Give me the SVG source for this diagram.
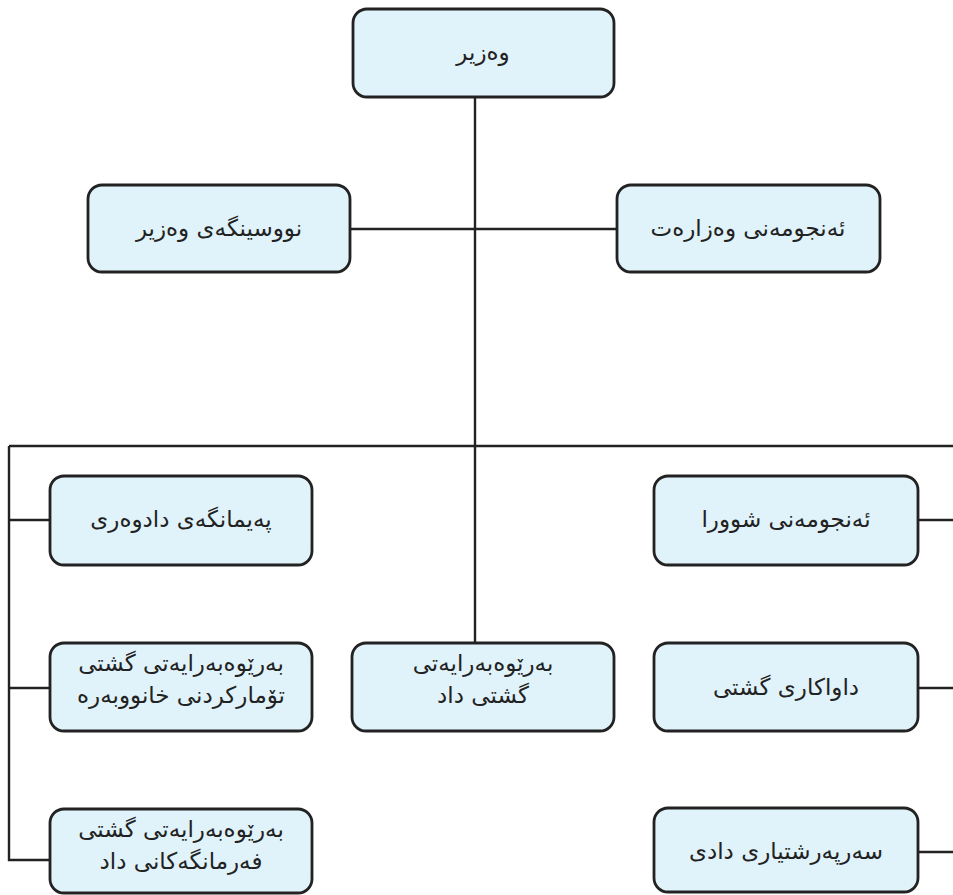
<svg xmlns="http://www.w3.org/2000/svg" width="953" height="895" viewBox="0 0 953 895">
<style>
.box{fill:#e0f2fa;stroke:#222;stroke-width:2.8}
.t{font-family:"DejaVu Sans","Noto Sans",sans-serif;font-size:23px;fill:#222;text-anchor:middle;direction:rtl}
.c{fill:none;stroke:#222;stroke-width:2.4}
</style>
<rect width="953" height="895" fill="#fff"/>
<g id="connectors">
<path class="c" d="M475 97V643"/>
<path class="c" d="M350 229H617"/>
<path class="c" d="M9 446H953"/>
<path class="c" d="M9 446V860H50"/>
<path class="c" d="M9 520H50"/>
<path class="c" d="M9 688H50"/>
<path class="c" d="M918 520H953"/>
<path class="c" d="M918 688H953"/>
<path class="c" d="M918 852H953"/>
</g>
<g id="n1"><rect class="box" x="353" y="9" width="261" height="88" rx="14"/><text class="t" x="483" y="60">وەزیر</text></g>
<g id="n2"><rect class="box" x="88" y="185" width="262" height="87" rx="14"/><text class="t" x="219" y="236">نووسینگەی وەزیر</text></g>
<g id="n3"><rect class="box" x="617" y="185" width="263" height="87" rx="14"/><text class="t" x="748" y="236">ئەنجومەنی وەزارەت</text></g>
<g id="n4"><rect class="box" x="50" y="476" width="262" height="89" rx="14"/><text class="t" x="181" y="527">پەیمانگەی دادوەری</text></g>
<g id="n5"><rect class="box" x="654" y="476" width="264" height="89" rx="14"/><text class="t" x="786" y="527">ئەنجومەنی شوورا</text></g>
<g id="n6"><rect class="box" x="50" y="643" width="262" height="88" rx="14"/><text class="t" x="181" y="671">بەرێوەبەرایەتی گشتی</text><text class="t" x="181" y="703">تۆمارکردنی خانووبەرە</text></g>
<g id="n7"><rect class="box" x="352" y="643" width="262" height="88" rx="14"/><text class="t" x="483" y="671">بەرێوەبەرایەتی</text><text class="t" x="483" y="703">گشتی داد</text></g>
<g id="n8"><rect class="box" x="654" y="643" width="264" height="88" rx="14"/><text class="t" x="786" y="695">داواکاری گشتی</text></g>
<g id="n9"><rect class="box" x="50" y="809" width="262" height="84" rx="14"/><text class="t" x="181" y="837">بەرێوەبەرایەتی گشتی</text><text class="t" x="181" y="869">فەرمانگەکانی داد</text></g>
<g id="n10"><rect class="box" x="654" y="808" width="264" height="84" rx="14"/><text class="t" x="786" y="859">سەرپەرشتیاری دادی</text></g>
</svg>
